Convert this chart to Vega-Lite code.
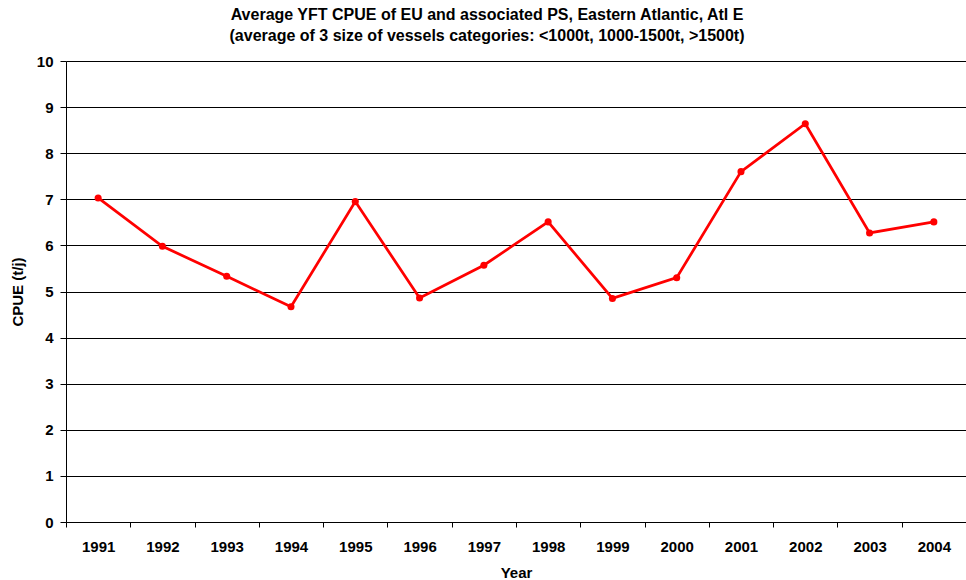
{
  "$schema": "https://vega.github.io/schema/vega-lite/v6.json",
  "width": 900,
  "height": 461,
  "autosize": {"type": "none"},
  "padding": {"left": 66, "top": 61, "right": 0, "bottom": 58},
  "background": "white",
  "title": {
    "text": ["Average YFT CPUE of EU and associated PS, Eastern Atlantic,  Atl E", "(average of 3 size of vessels categories: <1000t, 1000-1500t, >1500t)"],
    "anchor": "middle",
    "frame": "group",
    "dx": -29,
    "offset": 10,
    "font": "Liberation Sans",
    "fontSize": 16,
    "fontWeight": "bold",
    "lineHeight": 21,
    "color": "black"
  },
  "data": {
    "values": [
      {"Year": "1991", "CPUE": 7.03},
      {"Year": "1992", "CPUE": 5.98},
      {"Year": "1993", "CPUE": 5.33},
      {"Year": "1994", "CPUE": 4.67},
      {"Year": "1995", "CPUE": 6.95},
      {"Year": "1996", "CPUE": 4.86},
      {"Year": "1997", "CPUE": 5.57},
      {"Year": "1998", "CPUE": 6.51},
      {"Year": "1999", "CPUE": 4.85},
      {"Year": "2000", "CPUE": 5.30},
      {"Year": "2001", "CPUE": 7.60},
      {"Year": "2002", "CPUE": 8.64},
      {"Year": "2003", "CPUE": 6.27},
      {"Year": "2004", "CPUE": 6.51}
    ]
  },
  "config": {
    "view": {"stroke": null},
    "axis": {
      "labelFont": "Liberation Sans",
      "labelFontSize": 15,
      "labelFontWeight": "bold",
      "labelColor": "black",
      "titleFont": "Liberation Sans",
      "titleFontSize": 15,
      "titleFontWeight": "bold",
      "titleColor": "black",
      "domainColor": "black",
      "tickColor": "black",
      "gridColor": "black",
      "gridOpacity": 1,
      "domainWidth": 1,
      "tickWidth": 1,
      "gridWidth": 1
    }
  },
  "encoding": {
    "x": {
      "field": "Year",
      "type": "ordinal",
      "scale": {"type": "band", "paddingInner": 0, "paddingOuter": 0},
      "axis": {"title": "Year", "labelAngle": 0, "tickBand": "extent", "grid": false, "tickSize": 5, "labelPadding": 12, "titlePadding": 11}
    },
    "y": {
      "field": "CPUE",
      "type": "quantitative",
      "scale": {"domain": [0, 10], "nice": false},
      "axis": {"title": "CPUE (t/j)", "values": [0,1,2,3,4,5,6,7,8,9,10], "grid": true, "tickSize": 6, "labelPadding": 7, "titlePadding": 11}
    }
  },
  "layer": [
    {"mark": {"type": "line", "color": "#FF0000", "strokeWidth": 2.75}},
    {"mark": {"type": "point", "filled": true, "color": "#FF0000", "size": 50, "opacity": 1}}
  ]
}
